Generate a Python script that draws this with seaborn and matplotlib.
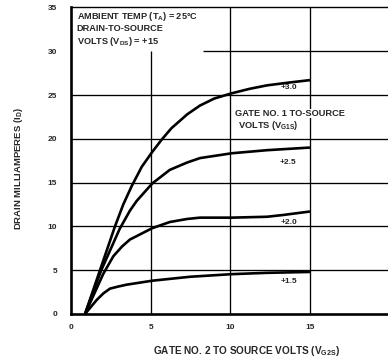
import matplotlib
matplotlib.use("Agg")
import matplotlib.pyplot as plt
import seaborn as sns
import pandas as pd

sns.set_theme(style="white")
plt.rcParams["font.family"] = ["Liberation Sans", "DejaVu Sans"]
plt.rcParams["font.weight"] = "bold"
plt.rcParams["mathtext.fontset"] = "custom"
plt.rcParams["mathtext.rm"] = "Liberation Sans:bold"
plt.rcParams["mathtext.bf"] = "Liberation Sans:bold"
plt.rcParams["mathtext.default"] = "bf"

# Drain current (mA) vs gate-2 voltage, one curve per gate-1 voltage
vg1_labels = ["+3.0", "+2.5", "+2.0", "+1.5"]

vg2_30 = [0.88, 1.82, 2.76, 3.28, 3.81, 4.44, 5.1, 5.69, 6.3, 7.3, 8.1, 9.0, 10.1,
          11.2, 12.3, 13.6, 15.0]
id_30 = [0, 5.0, 10.0, 12.5, 14.6, 16.8, 18.5, 19.9, 21.2, 22.8, 23.8, 24.6, 25.2,
         25.7, 26.1, 26.4, 26.7]

vg2_25 = [0.88, 1.9, 3.05, 3.7, 4.12, 5.1, 6.2, 7.3, 8.1, 10.1, 12.3, 15.0]
id_25 = [0, 5.0, 9.7, 11.8, 12.9, 14.9, 16.45, 17.3, 17.8, 18.35, 18.7, 19.0]

vg2_20 = [0.88, 2.03, 2.66, 3.2, 3.7, 5.1, 6.2, 7.3, 8.1, 10.1, 12.3, 13.3, 15.0]
id_20 = [0, 4.6, 6.6, 7.7, 8.5, 9.8, 10.5, 10.85, 11.0, 11.0, 11.1, 11.3, 11.7]

vg2_15 = [0.88, 1.61, 2.03, 2.45, 3.0, 3.5, 5.1, 7.47, 10.1, 12.3, 15.0]
id_15 = [0, 1.6, 2.35, 2.9, 3.15, 3.35, 3.8, 4.25, 4.55, 4.7, 4.8]

# anchor (x, y) of each curve's value tag
label_x = [13.7, 13.6, 13.7, 13.7]
label_y = [25.8, 17.3, 10.5, 3.7]

x_ticks = [0, 5, 10, 15]
y_ticks = [0, 5, 10, 15, 20, 25, 30, 35]

frames = []
for lab, xs, ys in zip(vg1_labels, [vg2_30, vg2_25, vg2_20, vg2_15], [id_30, id_25, id_20, id_15]):
    frames.append(pd.DataFrame({"vg2": xs, "id": ys, "vg1": lab}))
df = pd.concat(frames, ignore_index=True)

W, H = 388, 359
fig = plt.figure(figsize=(W / 100, H / 100), dpi=100)
ax = fig.add_axes([71 / W, 45 / H, (W - 71) / W, (314 - 7.4) / H])

ax.set_xlim(0, (W - 71) / 15.93)
ax.set_ylim(0, 35)

# grid lines
grid_kw = dict(color="black", lw=0.95, zorder=1)
for yv in [5, 10, 15, 20, 25]:
    ax.axhline(yv, **grid_kw)
ax.hlines(30, 8.3, 30, **grid_kw)
ax.vlines(5, 0, 30, **grid_kw)
ax.vlines([10, 15], 0, 35, **grid_kw)

sns.lineplot(data=df, x="vg2", y="id", hue="vg1", palette=["black"] * 4,
             estimator=None, sort=False, lw=1.9, legend=False, ax=ax, zorder=3)
for line in ax.lines[-4:]:
    line.set_solid_joinstyle("round")
    line.set_solid_capstyle("butt")

for lab, lx, ly in zip(vg1_labels, label_x, label_y):
    ax.text(lx, ly, lab, fontsize=6, fontweight="bold", ha="center", va="center",
            zorder=4)

ax.text(10.3, 22.9, "GATE NO. 1 TO-SOURCE", fontsize=6.7, fontweight="bold",
        ha="left", va="center", zorder=4,
        bbox=dict(facecolor="white", edgecolor="none", pad=0.3))
ax.text(10.5, 21.5, r"VOLTS (V$_{G1S}$)", fontsize=6.7, fontweight="bold",
        ha="left", va="center", zorder=4,
        bbox=dict(facecolor="white", edgecolor="none", pad=0.3))

ax.text(0.35, 34.0, r"AMBIENT TEMP (T$_{A}$) = 25°C", fontsize=6.6, fontweight="bold",
        ha="left", va="center", zorder=4)
ax.text(0.35, 32.55, "DRAIN-TO-SOURCE", fontsize=6.6, fontweight="bold",
        ha="left", va="center", zorder=4)
ax.text(0.35, 31.1, r"VOLTS (V$_{DS}$) = +15", fontsize=6.6, fontweight="bold",
        ha="left", va="center", zorder=4)

ax.set_xticks(x_ticks)
ax.set_yticks(y_ticks)
ax.set_xticklabels([str(v) for v in x_ticks], fontsize=6, fontweight="bold")
ax.set_yticklabels([str(v) for v in y_ticks], fontsize=6, fontweight="bold")
ax.tick_params(axis="x", length=0, pad=7)
ax.tick_params(axis="y", length=0, pad=10)
ax.set_xlabel("")
ax.set_ylabel("")

for side in ["left", "bottom"]:
    ax.spines[side].set_linewidth(1.9)
    ax.spines[side].set_color("black")
ax.spines["top"].set_linewidth(1.0)
ax.spines["top"].set_color("black")
ax.spines["right"].set_visible(False)

fig.text(247 / W, 1 - 351 / H, r"GATE NO. 2 TO SOURCE VOLTS (V$_{G2S}$)", fontsize=7.2,
         fontweight="bold", ha="center", va="center")
fig.text(19 / W, 1 - 169 / H, r"DRAIN MILLIAMPERES (I$_{D}$)", fontsize=6.8,
         fontweight="bold", ha="center", va="center", rotation=90)

fig.savefig("out.png", dpi=100)
